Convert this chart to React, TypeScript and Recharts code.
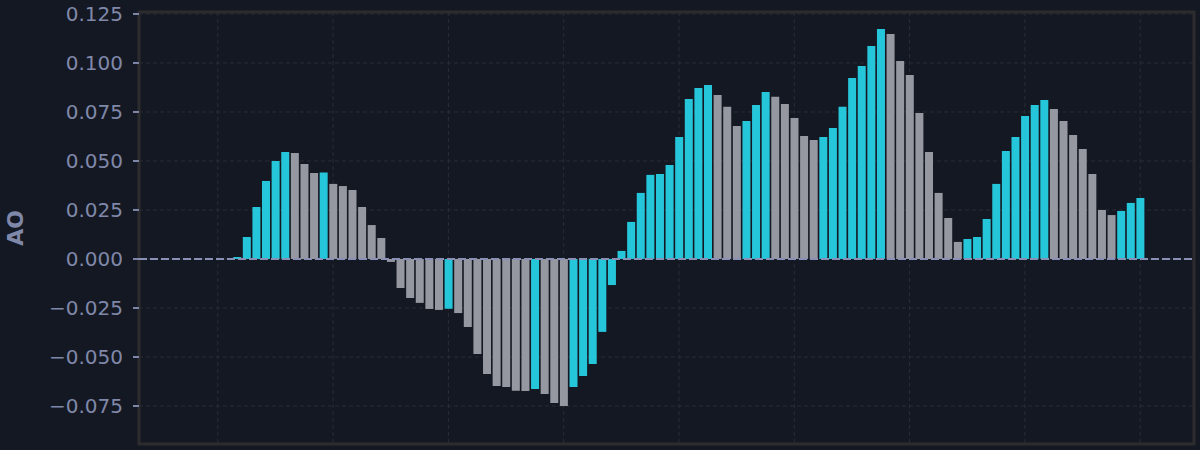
import { BarChart, Bar, Cell, XAxis, YAxis, CartesianGrid, ReferenceLine, ReferenceArea } from "recharts";

// Awesome Oscillator values, one per bar (left to right)
const aoValues = [
  0.001, 0.0112, 0.0265, 0.0398, 0.05, 0.0546, 0.0541, 0.0485, 0.0438, 0.0441,
  0.0383, 0.0372, 0.0352, 0.0265, 0.0173, 0.0107, -0.0015, -0.0148, -0.0199, -0.0224,
  -0.0255, -0.026, -0.0254, -0.0276, -0.0347, -0.0485, -0.0587, -0.0648, -0.0653, -0.0672,
  -0.0674, -0.0663, -0.0689, -0.0735, -0.075, -0.0653, -0.0597, -0.0536, -0.0372, -0.0133,
  0.0041, 0.0189, 0.0337, 0.0429, 0.0434, 0.048, 0.0622, 0.0816, 0.0872, 0.0888,
  0.0837, 0.0776, 0.0679, 0.0704, 0.0786, 0.0852, 0.0827, 0.079, 0.0719, 0.0628,
  0.0607, 0.0622, 0.0668, 0.0776, 0.0923, 0.0985, 0.1087, 0.1173, 0.1148, 0.101,
  0.0939, 0.0745, 0.0546, 0.0337, 0.0209, 0.0087, 0.0102, 0.0112, 0.0204, 0.0383,
  0.0551, 0.0622, 0.073, 0.0786, 0.0811, 0.0765, 0.0704, 0.0633, 0.0561, 0.0434,
  0.025, 0.0224, 0.0245, 0.0286, 0.0311,
];

const yTicks = [-0.075, -0.05, -0.025, 0, 0.025, 0.05, 0.075, 0.1, 0.125];
const xGridTicks = [-2, 10, 22, 34, 46, 58, 70, 82, 94];

const X_DOMAIN: [number, number] = [-10.2, 99.6];
const Y_DOMAIN: [number, number] = [-0.0944, 0.126];

const BG = "#141822";
const FRAME = "#2c2c2e";
const GRID = "#2a2d36";
const TEXT = "#8088aa";
const UP = "#26c6da";
const DOWN = "#9598a1";

const data = aoValues.map((ao, i) => ({ i, ao }));

const fmt = (v: number) => v.toFixed(3).replace("-", "\u2212");

// vertical grid at every 12th bar, placed through the x scale
const verticalGrid = ({ xAxis, offset }: any) => {
  if (xAxis && typeof xAxis.scale === "function") {
    return xGridTicks.map((t) => xAxis.scale(t));
  }
  const [d0, d1] = X_DOMAIN;
  return xGridTicks.map((t) => offset.left + ((t - d0) / (d1 - d0)) * offset.width);
};

export default function App() {
  return (
    <div style={{ position: "fixed", left: 0, top: 0, width: 1200, height: 450, background: BG }}>
      <BarChart
        width={1200}
        height={450}
        data={data}
        margin={{ top: 12, right: 6, bottom: 6, left: 0 }}
        style={{ fontFamily: "DejaVu Sans" }}
      >
        <CartesianGrid
          stroke={GRID}
          strokeDasharray="4 3"
          verticalCoordinatesGenerator={verticalGrid}
        />
        <XAxis
          dataKey="i"
          type="number"
          domain={X_DOMAIN}
          allowDataOverflow
          tick={false}
          tickLine={false}
          axisLine={false}
          height={0}
        />
        <YAxis
          domain={Y_DOMAIN}
          allowDataOverflow
          ticks={yTicks}
          interval={0}
          width={139}
          tickFormatter={fmt}
          tick={{ fill: TEXT, fontSize: 20 }}
          tickSize={6}
          tickMargin={10}
          tickLine={{ stroke: TEXT, strokeWidth: 2 }}
          axisLine={false}
          label={{
            value: "AO",
            angle: -90,
            position: "insideLeft",
            offset: 15,
            fill: TEXT,
            fontSize: 22,
            fontWeight: "bold",
            style: { textAnchor: "middle" },
          }}
        />
        <Bar dataKey="ao" barSize={8} isAnimationActive={false}>
          {aoValues.map((v, i) => (
            <Cell key={i} fill={i === 0 || v >= aoValues[i - 1] ? UP : DOWN} />
          ))}
        </Bar>
        <ReferenceLine y={0} stroke="#8a8fb5" strokeWidth={2} strokeDasharray="8 3" />
        <ReferenceArea
          x1={X_DOMAIN[0]}
          x2={X_DOMAIN[1]}
          y1={Y_DOMAIN[0]}
          y2={Y_DOMAIN[1]}
          fill="none"
          stroke={FRAME}
          strokeWidth={3}
          ifOverflow="visible"
        />
      </BarChart>
    </div>
  );
}
